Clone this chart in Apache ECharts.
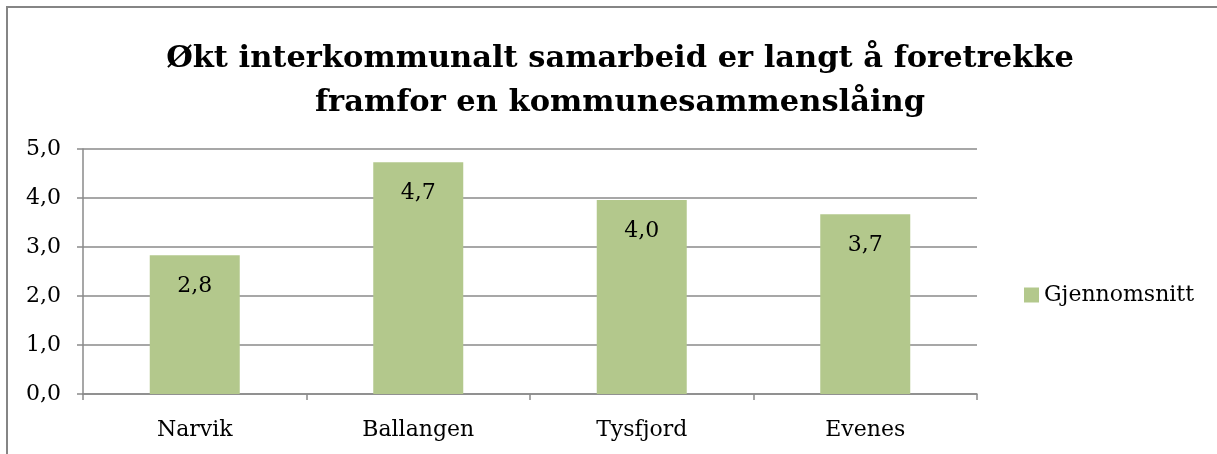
<!DOCTYPE html>
<html>
<head>
<meta charset="utf-8">
<script src="https://cdn.jsdelivr.net/npm/echarts@6/dist/echarts.min.js"></script>
<style>
  html, body { margin: 0; padding: 0; background: #fff; }
  #chart { width: 1217px; height: 454px; }
</style>
</head>
<body>
<div id="chart"></div>
<script>
// data
const titleLines = ['Økt interkommunalt samarbeid er langt å foretrekke', 'framfor en kommunesammenslåing']
const categories = ['Narvik', 'Ballangen', 'Tysfjord', 'Evenes']
const seriesName = 'Gjennomsnitt'
const values = [2.83, 4.73, 3.96, 3.67]

const font = "'DejaVu Serif', serif"
const fmt = v => v.toFixed(1).replace('.', ',')

const chart = echarts.init(document.getElementById('chart'))
chart.setOption({
  animation: false,
  textStyle: { fontFamily: font, color: '#000' },
  title: {
    text: titleLines.join('\n'),
    left: 615,
    textAlign: 'center',
    top: 32,
    textStyle: { fontFamily: font, fontSize: 30.5, fontWeight: 'bold', color: '#000', lineHeight: 44 }
  },
  graphic: [
    {
      type: 'rect',
      shape: { x: 7, y: 7, width: 1230, height: 470 },
      style: { fill: 'none', stroke: '#858585', lineWidth: 2 },
      silent: true
    }
  ],
  legend: {
    left: 1019,
    top: 279,
    itemWidth: 15,
    itemHeight: 15,
    icon: 'rect',
    data: [seriesName],
    textStyle: { fontFamily: font, fontSize: 22, color: '#000' }
  },
  grid: { left: 83, right: 240, top: 149, bottom: 60 },
  xAxis: {
    type: 'category',
    data: categories,
    axisLine: { lineStyle: { color: '#8a8a8a', width: 1.5 } },
    axisTick: { show: true, length: 6, lineStyle: { color: '#8a8a8a', width: 1.5 } },
    axisLabel: { fontFamily: font, fontSize: 22, color: '#000', margin: 25 }
  },
  yAxis: {
    type: 'value',
    min: 0,
    max: 5,
    interval: 1,
    axisLine: { show: true, lineStyle: { color: '#8a8a8a', width: 1.5 } },
    axisTick: { show: true, length: 6, lineStyle: { color: '#8a8a8a', width: 1.5 } },
    splitLine: { lineStyle: { color: '#8a8a8a', width: 1.5 } },
    axisLabel: { fontFamily: font, fontSize: 22, color: '#000', margin: 22, formatter: v => fmt(v) }
  },
  series: [
    {
      name: seriesName,
      type: 'bar',
      data: values,
      barWidth: 90,
      itemStyle: { color: '#b3c88c' },
      label: {
        show: true,
        position: 'insideTop',
        distance: 20,
        fontFamily: font,
        fontSize: 22,
        color: '#000',
        formatter: p => fmt(p.value)
      }
    }
  ]
})
</script>
</body>
</html>
